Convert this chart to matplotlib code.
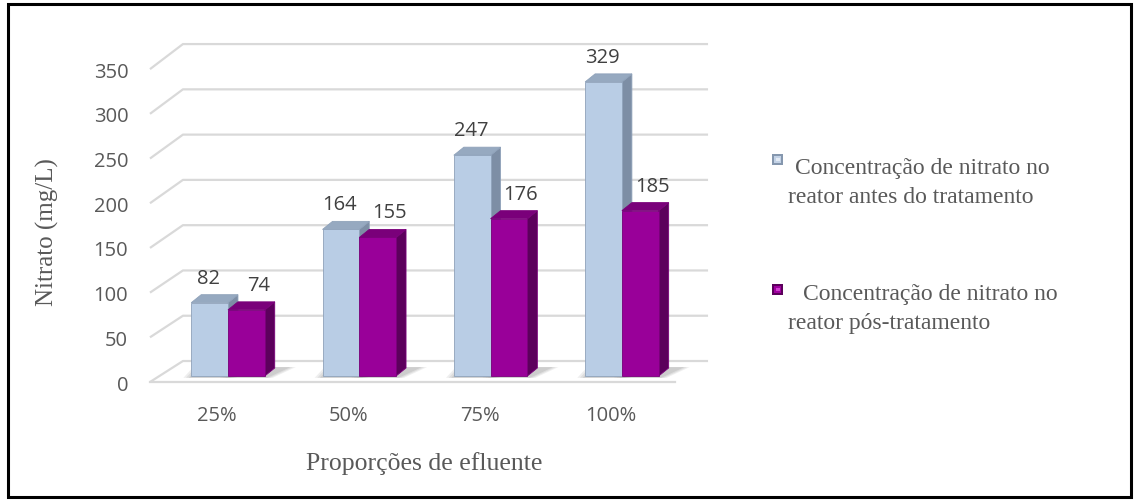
import matplotlib.pyplot as plt
from matplotlib.patches import Polygon, Rectangle

# data
categories = ['25%', '50%', '75%', '100%']
antes = [82, 164, 247, 329]
pos = [74, 155, 176, 185]
legend_line1 = ['Concentração de nitrato no', 'Concentração de nitrato no']
legend_line2 = ['reator antes do tratamento', 'reator pós-tratamento']
yticks = [0, 50, 100, 150, 200, 250, 300, 350]

# 3D-ish look (data units)
DX = 0.251               # floor depth in x
BACK_OFF, BACK_SCALE = 23.5, 1.013
BDX, BDY = 0.076, 9      # bar depth
BASE = 6.7               # bar base above front floor edge
W = 0.28                 # bar width
X_LEFT, X_RIGHT = -0.594, 3.656

sans = ['Open Sans', 'DejaVu Sans']
serif = ['Liberation Serif', 'DejaVu Serif']
tick_c = '#595959'

fig = plt.figure(figsize=(11.38, 5.02), dpi=100)
W_PX, H_PX = 1138, 502
ax = fig.add_axes([140 / W_PX, (H_PX - 395) / H_PX, 580 / W_PX, 365 / H_PX])
ax.set_xlim(-0.670, 3.747)
ax.set_ylim(-13.4, 394.9)
for s in ax.spines.values():
    s.set_visible(False)
ax.patch.set_alpha(0)

grid_c = '#d9d9d9'
for v in yticks:
    vb = BACK_OFF + v * BACK_SCALE
    ax.plot([X_LEFT, X_LEFT + DX, X_RIGHT], [v, vb, vb],
            color=grid_c, lw=1.6, zorder=1, solid_capstyle='butt')
ax.plot([X_LEFT, X_RIGHT - DX], [0, 0], color=grid_c, lw=1.6, zorder=1)


def bar3d(x0, h, front, side, top, edge):
    y0 = BASE
    y1 = BASE + h
    # soft shadow on the floor
    for k, a in enumerate([0.18, 0.22, 0.3]):
        g = 0.06 - 0.02 * k
        ax.add_patch(Polygon([(x0 - g, y0 - 2), (x0 + W + g, y0 - 2),
                              (x0 + W + BDX + 0.1 + g, y0 + BDY + 1), (x0 + BDX - g, y0 + BDY + 1)],
                             closed=True, color='#a6a6a6', alpha=a, lw=0, zorder=2))
    ax.add_patch(Polygon([(x0 + W, y0), (x0 + W + BDX, y0 + BDY),
                          (x0 + W + BDX, y1 + BDY), (x0 + W, y1)],
                         closed=True, fc=side, ec=edge, lw=0.6, zorder=3))
    ax.add_patch(Polygon([(x0, y1), (x0 + W, y1), (x0 + W + BDX, y1 + BDY),
                          (x0 + BDX, y1 + BDY)],
                         closed=True, fc=top, ec=edge, lw=0.6, zorder=3))
    ax.add_patch(Rectangle((x0, y0), W, h, fc=front, ec=edge, lw=0.6, zorder=3))


for i in range(len(categories)):
    bar3d(i - W, antes[i], '#b9cde5', '#7d8ea5', '#96a9c0', '#8fa2ba')
    bar3d(i, pos[i], '#990099', '#5c005c', '#7a007a', '#7a007a')
    ax.text(i - W / 2 - 0.01, BASE + antes[i] + 28, str(antes[i]), ha='center',
            va='center', fontsize=14.5, color='#404040', family=sans, zorder=5)
    ax.text(i + W / 2 + 0.09, BASE + pos[i] + 28, str(pos[i]), ha='center',
            va='center', fontsize=14.5, color='#404040', family=sans, zorder=5)

ax.set_yticks(yticks)
ax.set_yticklabels([str(v) for v in yticks], family=sans, fontsize=14.5, color=tick_c)
ax.set_xticks([i - 0.084 for i in range(len(categories))])
ax.set_xticklabels(categories, family=sans, fontsize=14.5, color=tick_c)
ax.tick_params(length=0)
ax.tick_params(axis='x', pad=8)
ax.tick_params(axis='y', pad=8.5)

# axis titles
fig.text(47 / W_PX, 1 - 232 / H_PX, 'Nitrato (mg/L)', rotation=90, ha='center',
         va='center', fontsize=18, family=serif, color=tick_c)
fig.text(424 / W_PX, 1 - 470 / H_PX, 'Proporções de efluente', ha='center',
         va='baseline', fontsize=18.5, family=serif, color=tick_c)


# legend markers with a bevelled look
def legend_marker(x, y, face, dark, light):
    fig.patches.append(Rectangle((x / W_PX, 1 - (y + 11) / H_PX), 11 / W_PX, 11 / H_PX,
                                 transform=fig.transFigure, fc=dark, lw=0))
    fig.patches.append(Rectangle(((x + 2) / W_PX, 1 - (y + 9) / H_PX), 7 / W_PX, 7 / H_PX,
                                 transform=fig.transFigure, fc=face, lw=0))
    fig.patches.append(Rectangle(((x + 3.5) / W_PX, 1 - (y + 6.5) / H_PX), 4 / W_PX, 3 / H_PX,
                                 transform=fig.transFigure, fc=light, lw=0))


legend_marker(772, 155, '#c3d2e6', '#8597ae', '#e3ebf5')
legend_marker(772, 285, '#a000a0', '#5c005c', '#d040d0')

fig.text(795 / W_PX, 1 - 174 / H_PX, legend_line1[0], va='baseline', fontsize=17,
         family=serif, color=tick_c)
fig.text(788 / W_PX, 1 - 203 / H_PX, legend_line2[0], va='baseline',
         fontsize=17, family=serif, color=tick_c)
fig.text(803 / W_PX, 1 - 300 / H_PX, legend_line1[1], va='baseline', fontsize=17,
         family=serif, color=tick_c)
fig.text(788 / W_PX, 1 - 329 / H_PX, legend_line2[1], va='baseline',
         fontsize=17, family=serif, color=tick_c)

# outer frame
fig.patches.append(Rectangle((7.5 / W_PX, 4.5 / H_PX), 1 - 15 / W_PX, 1 - 9 / H_PX,
                             transform=fig.transFigure, fill=False, ec='black', lw=2.2))

fig.savefig('out.png', dpi=100)
